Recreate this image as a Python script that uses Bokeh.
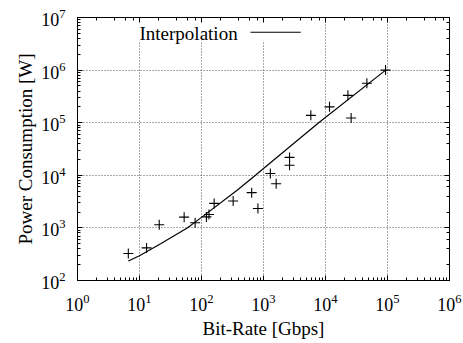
from bokeh.plotting import figure
from bokeh.models import LogAxis, Label, BoxAnnotation, Arrow, LogTicker, CustomJSTickFormatter
from bokeh.embed import file_html
from bokeh.resources import INLINE

# measured data
bitrate = [6.6, 13, 20.8, 52.5, 79, 120, 132, 160, 324, 645, 813, 1290, 1600, 2630, 2630,
           5800, 11600, 23000, 25900, 46500, 93000]
power = [327, 417, 1150, 1600, 1250, 1620, 1800, 2920, 3240, 4680, 2340, 10800, 6900, 21900, 15500,
         138000, 200000, 331000, 123000, 563000, 1000000]

# interpolation curve
fit_bitrate = [6.6, 10, 21.9, 58.9, 100, 380, 741, 1000, 7760, 93300]
fit_power = [234, 295, 501, 1000, 1585, 5250, 10000, 13500, 100000, 1000000]

legend_label = "Interpolation"
x_label = "Bit-Rate [Gbps]"
y_label = "Power Consumption [W]"

FONT = "Liberation Serif"
FS = "19px"
TFS = "18px"

p = figure(width=463, height=343, x_axis_type="log", y_axis_type="log",
           x_range=(1, 1e6), y_range=(1e2, 1e7),
           output_backend="svg", toolbar_location=None,
           min_border_left=77, min_border_right=14, min_border_top=17, min_border_bottom=63)
p.background_fill_color = "white"
p.border_fill_color = "white"
p.outline_line_color = "black"
p.outline_line_width = 1

for ax in (p.xaxis[0], p.yaxis[0]):
    ax.major_tick_in = 5
    ax.major_tick_out = 0
    ax.minor_tick_in = 3
    ax.minor_tick_out = 0
    ax.axis_line_color = "black"
    ax.major_label_text_font = FONT
    ax.major_label_text_font_size = TFS
    ax.major_label_text_color = "black"
    ax.axis_label_text_font = FONT
    ax.axis_label_text_font_size = FS
    ax.axis_label_text_font_style = "normal"
    ax.axis_label_text_color = "black"

p.xaxis.axis_label = x_label
p.yaxis.axis_label = y_label
p.xaxis.major_label_standoff = 13
p.yaxis.major_label_standoff = 12
p.xaxis.axis_label_standoff = 4
p.yaxis.axis_label_standoff = 2

for loc in ("above", "right"):
    a = LogAxis(ticker=LogTicker(), formatter=CustomJSTickFormatter(code="return ''"))
    a.major_tick_in = 5
    a.major_tick_out = 0
    a.minor_tick_in = 3
    a.minor_tick_out = 0
    a.major_label_standoff = 0
    a.axis_line_color = "black"
    p.add_layout(a, loc)

p.grid.grid_line_color = "#555555"
p.grid.grid_line_dash = "1 2"
p.grid.grid_line_width = 1

p.line(fit_bitrate, fit_power, line_color="black", line_width=1.2)
p.scatter(bitrate, power, marker="cross", size=10, line_color="black", line_width=1.1)

# key (gnuplot style: text then sample line)
p.add_layout(BoxAnnotation(left=10**0.85, right=10**3.71, bottom=10**6.56, top=1e7,
                           fill_color="white", fill_alpha=1, line_alpha=0, level="underlay"))
p.add_layout(Label(x=10**1.0, y=10**6.7, text=legend_label, text_font=FONT,
                   text_font_size=FS, text_baseline="middle", text_color="black"))
p.add_layout(Arrow(end=None, x_start=10**2.79, y_start=10**6.72, x_end=10**3.6, y_end=10**6.72,
                   line_color="black", line_width=1.2))

open("out.html", "w").write(file_html(p, INLINE))
